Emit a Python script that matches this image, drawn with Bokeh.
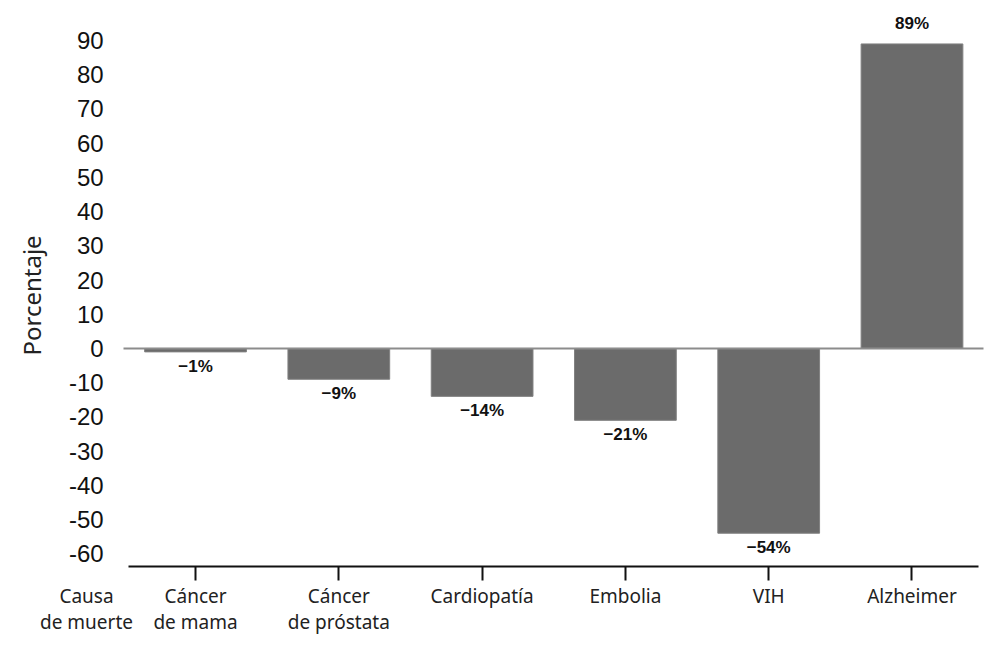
from bokeh.plotting import figure
from bokeh.models import Range1d, FixedTicker, LinearAxis, ColumnDataSource
from bokeh.embed import file_html
from bokeh.resources import INLINE
from bokeh.core.properties import value

categories = ["Cáncer\nde mama", "Cáncer\nde próstata", "Cardiopatía", "Embolia", "VIH", "Alzheimer"]
values = [-1, -9, -14, -21, -54, 89]
y_ticks = [-60, -50, -40, -30, -20, -10, 0, 10, 20, 30, 40, 50, 60, 70, 80, 90]
x_title = "Causa\nde muerte"

labels = [("−%d%%" % abs(v)) if v < 0 else ("%d%%" % v) for v in values]
pos = list(range(len(categories)))

# layout constants (screen geometry of the original chart)
X_START, X_END = -1.361, 5.506
Y_START, Y_END = -87.4, 101.7
AXIS_Y = -63.7          # where the category axis line sits
FRAME_X = -0.502        # left edge of the plotting area
TITLE_X = -0.761        # position of "Causa de muerte"

p = figure(width=984, height=647, x_range=Range1d(X_START, X_END), y_range=Range1d(Y_START, Y_END),
           output_backend="svg", toolbar_location=None, min_border=0)
p.outline_line_color = None
p.xgrid.visible = False
p.ygrid.visible = False
p.background_fill_color = "white"

neg = [i for i, v in enumerate(values) if v < 0]
posi = [i for i, v in enumerate(values) if v >= 0]
src_neg = ColumnDataSource(dict(x=[pos[i] for i in neg], y=[values[i] for i in neg], t=[labels[i] for i in neg]))
src_pos = ColumnDataSource(dict(x=[pos[i] for i in posi], y=[values[i] for i in posi], t=[labels[i] for i in posi]))

p.vbar(x=pos, top=values, bottom=0, width=0.71, fill_color="#6b6b6b", line_color="#808080", line_width=1)

p.text(x="x", y="y", text="t", source=src_neg, text_align="center", text_baseline="top", y_offset=5,
       text_font=value("Liberation Sans"), text_font_style="bold", text_font_size="17px", text_color="#111111")
p.text(x="x", y="y", text="t", source=src_pos, text_align="center", text_baseline="bottom", y_offset=-11,
       text_font=value("Liberation Sans"), text_font_style="bold", text_font_size="17px", text_color="#111111")

# y axis (placed at left edge of plotting area)
ya = p.yaxis[0]
ya.fixed_location = FRAME_X
ya.bounds = (AXIS_Y, 94.8)
ya.ticker = FixedTicker(ticks=y_ticks)
ya.major_label_overrides = {t: str(t) for t in y_ticks}
ya.axis_line_color = None
ya.major_tick_line_color = None
ya.minor_tick_line_color = None
ya.major_tick_in = 0
ya.major_tick_out = 0
ya.major_label_text_font = "Liberation Sans"
ya.major_label_text_font_size = "24px"
ya.major_label_text_color = "#111111"
ya.major_label_standoff = 20
ya.axis_label = "Porcentaje"
ya.axis_label_text_font = "Noto Sans"
ya.axis_label_text_font_style = "normal"
ya.axis_label_text_font_size = "24px"
ya.axis_label_text_color = "#222222"
ya.axis_label_standoff = 18

# category x axis
xa = p.xaxis[0]
xa.fixed_location = AXIS_Y
xa.bounds = (-0.468, 5.464)
xa.ticker = FixedTicker(ticks=pos)
xa.major_label_overrides = {i: c for i, c in zip(pos, categories)}
xa.axis_line_color = "#111111"
xa.axis_line_width = 2
xa.major_tick_line_color = "#111111"
xa.major_tick_line_width = 2
xa.minor_tick_line_color = None
xa.major_tick_in = 0
xa.major_tick_out = 14
xa.major_label_text_font = "Noto Sans"
xa.major_label_text_font_size = "19px"
xa.major_label_text_color = "#222222"
xa.major_label_text_line_height = 1.0
xa.major_label_standoff = 3

# "Causa de muerte" heading on the category row
ta = LinearAxis(fixed_location=AXIS_Y, ticker=FixedTicker(ticks=[TITLE_X]),
                major_label_overrides={TITLE_X: x_title})
ta.axis_line_color = None
ta.major_tick_line_color = None
ta.minor_tick_line_color = None
ta.major_tick_in = 0
ta.major_tick_out = 0
ta.major_label_text_font = "Noto Sans"
ta.major_label_text_font_size = "19px"
ta.major_label_text_color = "#222222"
ta.major_label_text_line_height = 1.0
ta.major_label_standoff = 17
p.add_layout(ta, "below")

# zero reference line
za = LinearAxis(fixed_location=0, bounds=(FRAME_X, 5.5), ticker=FixedTicker(ticks=[]))
za.axis_line_color = "#8c8c8c"
za.axis_line_width = 2
za.major_tick_line_color = None
za.minor_tick_line_color = None
za.major_label_text_font_size = "0px"
p.add_layout(za, "below")

open("out.html", "w").write(file_html(p, INLINE))
